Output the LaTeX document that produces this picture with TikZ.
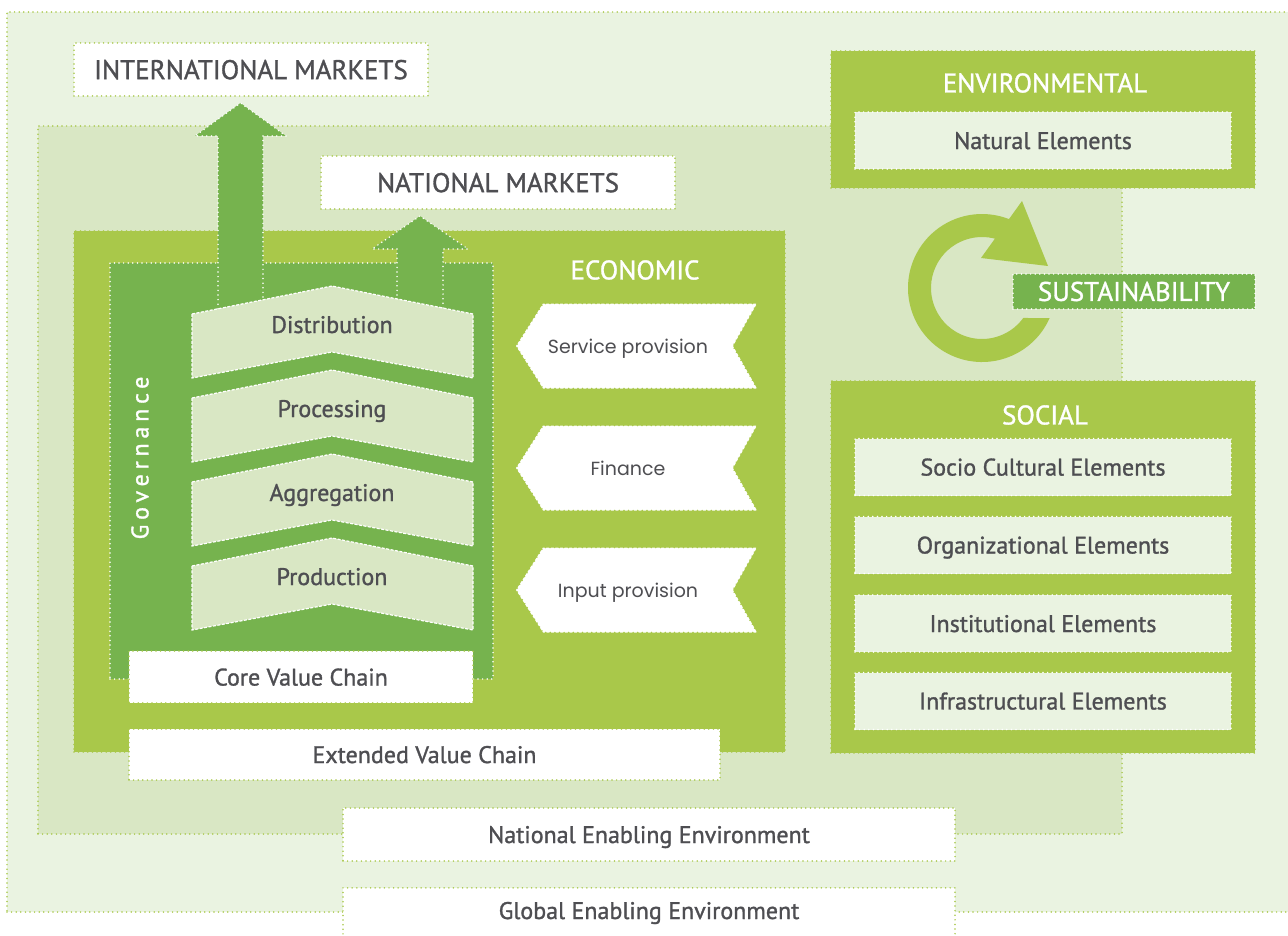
\documentclass[tikz,border=0pt]{standalone}
\usepackage{fontspec}
\setmainfont[BoldFont=PT Sans, BoldFeatures={FakeBold=1.2}]{PT Sans}
\newfontfamily\geofont{Poppins}
\newfontfamily\spacedfont[LetterSpace=20, BoldFont=PT Sans, BoldFeatures={FakeBold=1.2}]{PT Sans}
\usetikzlibrary{calc}
\definecolor{VC_Pale}{HTML}{EAF3E1}
\definecolor{VC_Sage}{HTML}{D9E7C4}
\definecolor{VC_Lime}{HTML}{A9C84A}
\definecolor{VC_Leaf}{HTML}{76B34E}
\definecolor{VC_Ink}{HTML}{4E4E52}

\begin{document}
\begin{tikzpicture}[x=1pt, y=-1pt,
    dotrim/.style={line width=1.7pt, line cap=round, dash pattern=on 0pt off 4.6pt, inner sep=0pt},
    zone/.style={dotrim, draw=VC_Lime},
    whitebox/.style={zone, fill=white, text=VC_Ink, text depth=0pt, font=\fontsize{24}{28}\selectfont\bfseries},
    elembox/.style={dotrim, draw=white, fill=VC_Pale, text=VC_Ink, text depth=0pt, minimum width=376, minimum height=57, font=\fontsize{24}{28}\selectfont\bfseries},
    heading/.style={text=white, font=\fontsize{27}{30}\selectfont\bfseries},
    stage/.style={draw=white, fill=VC_Sage, line width=1.2pt, dash pattern=on 3pt off 1.5pt},
    stagetext/.style={text=VC_Ink, font=\fontsize{24}{28}\selectfont\bfseries},
    support/.style={zone, fill=white},
    supporttext/.style={text=VC_Ink, text depth=0pt, font=\geofont\fontsize{19}{22}\selectfont},
    arrowbody/.style={dotrim, draw=white, fill=VC_Leaf}
]
\useasboundingbox (0,0) rectangle (1288,936);

% enabling environments
\node[zone, fill=VC_Pale, minimum width=1288, minimum height=900] (global) at (651,462) {};
\node[whitebox, minimum width=612, minimum height=64, anchor=north] (globallbl) at (649,887) {};
\node[stagetext] (globaltxt) at (649,913) {Global Enabling Environment};
\node[zone, fill=VC_Sage, minimum width=1084, minimum height=708] (national) at (580,480) {};
\node[whitebox, minimum width=612, minimum height=53] (nationallbl) at (649,834.5) {National Enabling Environment};

% markets
\node[whitebox, minimum width=354, minimum height=53, font=\fontsize{27}{30}\selectfont\bfseries] (intl) at (251,69.5) {INTERNATIONAL MARKETS};
\node[whitebox, minimum width=354, minimum height=53, font=\fontsize{27}{30}\selectfont\bfseries] (natmkt) at (498,182.5) {NATIONAL MARKETS};

% extended value chain
\node[zone, fill=VC_Lime, minimum width=711, minimum height=521] (economic) at (429.5,491.5) {};
\node[heading] (ecotitle) at (635,270) {ECONOMIC};

% core value chain
\node[dotrim, draw=white, fill=VC_Leaf, minimum width=383, minimum height=416] (core) at (301.5,471) {};
\path[arrowbody] (218,318) -- (218,136) -- (195,136) -- (240.5,103) -- (286,136) -- (263,136) -- (263,318);
\path[arrowbody] (397,318) -- (397,249) -- (372,249) -- (420,216) -- (468,249) -- (443,249) -- (443,318);
\node[text=white, rotate=90, font=\spacedfont\fontsize{24}{28}\selectfont\bfseries] (gov) at (140,458) {Governance};

\foreach \ya/\nm/\txt in {286/dist/Distribution, 370/proc/Processing, 454/aggr/Aggregation, 538/prod/Production} {
  \path[stage] (192,\ya+28) -- (332,\ya) -- (473,\ya+28) -- (473,\ya+92) -- (332,\ya+66) -- (192,\ya+92) -- cycle;
  \node[stagetext, anchor=base] (\nm) at (332,\ya+47) {\txt};
}
\node[whitebox, minimum width=344, minimum height=52] (corelbl) at (301,677) {Core Value Chain};
\node[whitebox, minimum width=591, minimum height=51] (extlbl) at (424.5,754.5) {Extended Value Chain};

% support services
\foreach \yc/\nm/\txt in {346/service/Service provision, 468/finance/Finance, 590/input/Input provision} {
  \path[support] (757,\yc-42.5) -- (543,\yc-42.5) -- (516,\yc) -- (543,\yc+42.5) -- (757,\yc+42.5) -- (733,\yc) -- cycle;
  \node[supporttext] (\nm) at (628,\yc) {\txt};
}

% environmental
\node[zone, fill=VC_Lime, minimum width=424, minimum height=137] (environ) at (1043,119.5) {};
\node[heading] (envtitle) at (1045,83) {ENVIRONMENTAL};
\node[elembox] (natural) at (1043,140.5) {Natural Elements};

% sustainability loop
\coordinate (loopc) at (982,288);
\fill[VC_Lime] ($(loopc)+(-24:74pt)$) arc[start angle=-24, end angle=-295, radius=74pt]
  -- ($(loopc)+(-295:51pt)$) arc[start angle=-295, end angle=-36, radius=51pt] -- cycle;
\fill[VC_Lime] (1022,201) -- (1048,266) -- (981,258) -- cycle;
\node[dotrim, draw=white, fill=VC_Leaf, heading, minimum width=242, minimum height=35] (sustain) at (1134,291.5) {SUSTAINABILITY};

% social
\node[zone, fill=VC_Lime, minimum width=424, minimum height=372] (social) at (1043,567) {};
\node[heading] (soctitle) at (1045,415) {SOCIAL};
\foreach \yc/\nm/\txt in {467/socio/Socio Cultural Elements, 545/organ/Organizational Elements, 623.5/instit/Institutional Elements, 701/infra/Infrastructural Elements}
  \node[elembox] (\nm) at (1043,\yc) {\txt};

\end{tikzpicture}
\end{document}
